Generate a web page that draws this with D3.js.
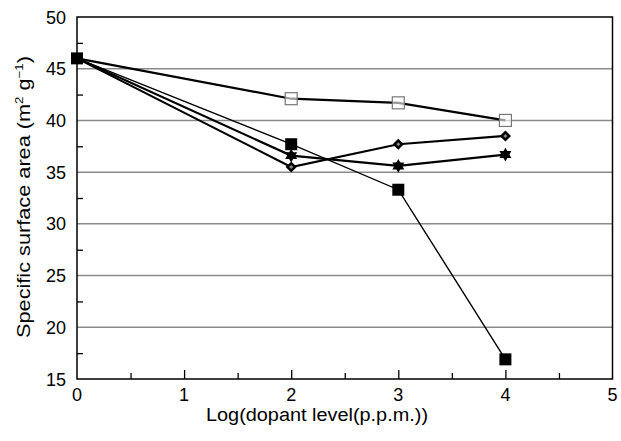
<!DOCTYPE html>
<html><head><meta charset="utf-8">
<script src="https://cdn.jsdelivr.net/npm/d3@7"></script>
<style>body{margin:0;background:#fff}svg{display:block}</style>
</head><body>
<svg id="c" width="621" height="441"></svg>
<script>
const xLevels = [0, 2, 3, 4];
const openSquare = [46.0, 42.1, 41.7, 40.0];
const diamond = [46.0, 35.5, 37.7, 38.5];
const star = [46.0, 36.6, 35.6, 36.7];
const filledSquare = [46.0, 37.7, 33.3, 16.9];
const xTicks = [0, 1, 2, 3, 4, 5];
const yTicks = [15, 20, 25, 30, 35, 40, 45, 50];

const svg = d3.select('#c');
const font = '"Liberation Sans", Arial, sans-serif';
const x = d3.scaleLinear().domain([0, 5]).range([77, 612.5]);
const y = d3.scaleLinear().domain([15, 50]).range([379, 17]);

// gridlines
svg.append('g').selectAll('line').data(yTicks.filter(v => v > 15 && v < 50)).join('line')
  .attr('x1', x(0)).attr('x2', x(5)).attr('y1', d => y(d)).attr('y2', d => y(d))
  .attr('stroke', '#8a8a8a').attr('stroke-width', 1.5);

// frame
svg.append('rect').attr('x', x(0)).attr('y', y(50)).attr('width', x(5) - x(0)).attr('height', y(15) - y(50))
  .attr('fill', 'none').attr('stroke', '#000').attr('stroke-width', 1.5);

// x axis ticks (inward)
const xAxis = d3.axisBottom(x).tickValues(d3.range(0.5, 5, 0.5)).tickSize(-7).tickFormat('');
const gx = svg.append('g').attr('transform', `translate(0,${y(15)})`).call(xAxis);
gx.select('.domain').remove();
gx.selectAll('.tick line').attr('stroke', '#000').attr('stroke-width', 1.3)
  .attr('y2', d => Number.isInteger(d) ? -9 : -6);
// x labels
svg.append('g').selectAll('text').data(xTicks).join('text')
  .attr('x', d => x(d)).attr('y', 401).attr('text-anchor', 'middle')
  .attr('font-family', font).attr('font-size', 18).text(d => d);

// y axis minor ticks
const yAxis = d3.axisLeft(y).tickValues(d3.range(17.5, 50, 5)).tickSize(-6).tickFormat('');
const gy = svg.append('g').attr('transform', `translate(${x(0)},0)`).call(yAxis);
gy.select('.domain').remove();
gy.selectAll('.tick line').attr('stroke', '#000').attr('stroke-width', 1.3);
svg.append('g').selectAll('text').data(yTicks).join('text')
  .attr('x', 66).attr('y', d => y(d) + 6.5).attr('text-anchor', 'end')
  .attr('font-family', font).attr('font-size', 18).text(d => d);

// axis titles
svg.append('text').attr('x', 317).attr('y', 421).attr('text-anchor', 'middle')
  .attr('font-family', font).attr('font-size', 18)
  .attr('textLength', 222).attr('lengthAdjust', 'spacingAndGlyphs')
  .text('Log(dopant level(p.p.m.))');
const yt = svg.append('text').attr('transform', `translate(30,${197}) rotate(-90)`)
  .attr('text-anchor', 'middle').attr('font-family', font).attr('font-size', 18)
  .attr('textLength', 282).attr('lengthAdjust', 'spacingAndGlyphs');
yt.append('tspan').text('Specific surface area (m');
yt.append('tspan').attr('font-size', 11).attr('dy', -7).text('2');
yt.append('tspan').attr('dy', 7).text(' g');
yt.append('tspan').attr('font-size', 11).attr('dy', -7).text('−1');
yt.append('tspan').attr('dy', 7).text(')');

const line = d3.line().x((d, i) => x(xLevels[i])).y(d => y(d));
const series = [
  {vals: filledSquare, w: 1.4, type: 'fsq'},
  {vals: openSquare, w: 2.2, type: 'osq'},
  {vals: star, w: 2.2, type: 'star'},
  {vals: diamond, w: 2.2, type: 'dia'}
];
series.forEach(s => {
  svg.append('path').datum(s.vals).attr('d', line).attr('fill', 'none')
    .attr('stroke', '#000').attr('stroke-width', s.w);
});
series.forEach(s => {
  const g = svg.append('g');
  s.vals.forEach((v, i) => {
    const cx = x(xLevels[i]), cy = y(v);
    if (s.type === 'fsq') {
      g.append('rect').attr('x', cx - 6).attr('y', cy - 6).attr('width', 12).attr('height', 12).attr('fill', '#000');
    } else if (s.type === 'osq') {
      if (i === 0) return;
      g.append('rect').attr('x', cx - 6).attr('y', cy - 6).attr('width', 12).attr('height', 12)
        .attr('fill', '#fff').attr('fill-opacity', 0.6).attr('stroke', '#777').attr('stroke-width', 1.2);
    } else if (s.type === 'star') {
      if (i === 0) return;
      g.append('path').attr('d', d3.symbol(d3.symbolTriangle, 62)()).attr('transform', `translate(${cx},${cy})`).attr('fill', '#000');
      g.append('path').attr('d', d3.symbol(d3.symbolTriangle, 62)()).attr('transform', `translate(${cx},${cy}) rotate(180)`).attr('fill', '#000');
    } else {
      if (i === 0) return;
      g.append('path').attr('d', d3.symbol(d3.symbolSquare, 62)()).attr('transform', `translate(${cx},${cy}) rotate(45)`)
        .attr('fill', '#000');
      g.append('path').attr('d', d3.symbol(d3.symbolSquare, 8)()).attr('transform', `translate(${cx},${cy}) rotate(45)`)
        .attr('fill', '#888');
    }
  });
});
</script>
</body></html>
